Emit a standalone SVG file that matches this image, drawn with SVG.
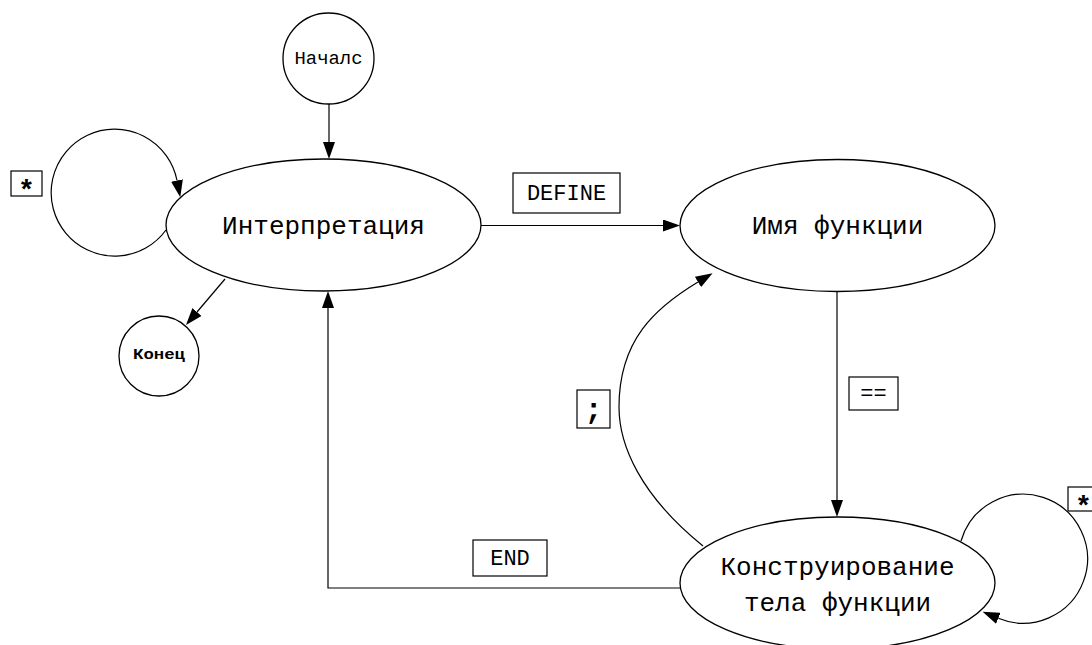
<svg xmlns="http://www.w3.org/2000/svg" width="1092" height="645" viewBox="0 0 1092 645">
<style>
.node{fill:#fff;stroke:#000;stroke-width:1.3}
.edge{fill:none;stroke:#000;stroke-width:1.2;marker-end:url(#ah)}
.lbl{fill:#fff;stroke:#000;stroke-width:1.2}
text{font-family:"Liberation Mono","DejaVu Sans Mono",monospace;fill:#000;text-anchor:middle}
.big{font-size:26px}
.mid{font-size:22px}
.star{font-size:28px;font-weight:bold}
</style>
<defs>
<marker id="ah" markerWidth="17" markerHeight="12" refX="0" refY="6" orient="auto" markerUnits="userSpaceOnUse">
<path d="M0,0 L17,6 L0,12 z" fill="#000"/>
</marker>
</defs>
<rect width="1092" height="645" fill="#fff"/>
<g id="connectors">
<path class="edge" d="M329 104 V142"/>
<path class="edge" d="M166 230 A63.5 63.5 0 1 1 177 180.5"/>
<path class="edge" d="M225 279 L197 312"/>
<path class="edge" d="M481 225.5 H663"/>
<path class="edge" d="M837 292 V500"/>
<path class="edge" d="M680 588 H328 V308"/>
<path class="edge" d="M703 546 C640 495 619 445 619 407 C619 340 655 308 698 282"/>
<path class="edge" d="M961 541 A64.5 64.5 0 1 1 998.3 618.3"/>
</g>
<g id="node-start">
<circle class="node" cx="328.5" cy="58.5" r="45.5"/>
<text x="328.5" y="64" style="font-size:19px" textLength="68" lengthAdjust="spacingAndGlyphs">Началс</text>
</g>
<g id="node-interp">
<ellipse class="node" cx="323.5" cy="225" rx="157.5" ry="66"/>
<text class="big" x="323.5" y="234">Интерпретация</text>
</g>
<g id="node-end">
<circle class="node" cx="159" cy="356" r="40"/>
<text x="159" y="359" style="font-size:14px;font-weight:bold" textLength="52" lengthAdjust="spacingAndGlyphs">Конец</text>
</g>
<g id="node-name">
<ellipse class="node" cx="837.5" cy="225.5" rx="157.5" ry="66"/>
<text class="big" x="837.5" y="234">Имя функции</text>
</g>
<g id="node-body">
<ellipse class="node" cx="837.5" cy="583" rx="157.5" ry="66"/>
<text class="big" x="837.5" y="575">Конструирование</text>
<text class="big" x="837.5" y="611">тела функции</text>
</g>
<g id="labels">
<rect class="lbl" x="11" y="171" width="31" height="25"/>
<text class="star" x="26.5" y="199">*</text>
<rect class="lbl" x="513" y="173" width="107" height="40"/>
<text class="mid" x="566.5" y="200">DEFINE</text>
<rect class="lbl" x="849" y="377" width="49" height="33"/>
<text class="mid" x="873.5" y="400">==</text>
<rect class="lbl" x="577" y="390" width="33" height="38"/>
<text x="593.5" y="419" style="font-size:30px;font-weight:bold">;</text>
<rect class="lbl" x="473" y="540" width="74" height="36"/>
<text class="mid" x="510" y="565">END</text>
<rect class="lbl" x="1068" y="487" width="31" height="24"/>
<text class="star" x="1083.5" y="515">*</text>
</g>
</svg>
